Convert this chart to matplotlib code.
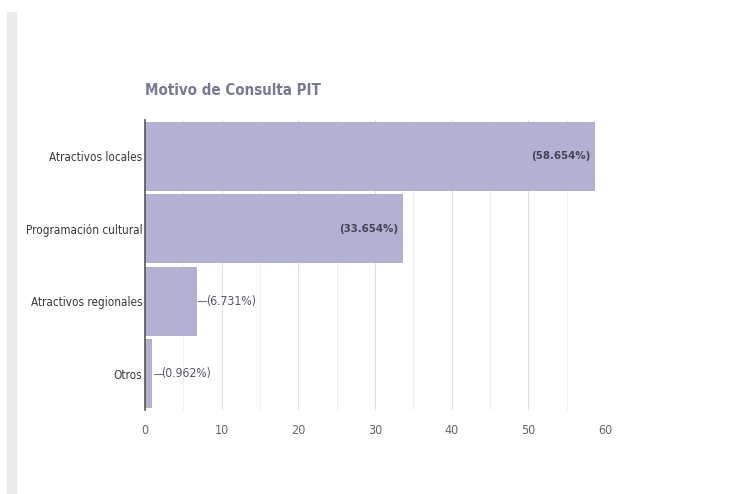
import matplotlib.pyplot as plt
from matplotlib.patches import Rectangle

categories = ["Atractivos locales", "Programación cultural", "Atractivos regionales", "Otros"]
values = [58.654, 33.654, 6.731, 0.962]
labels = ["(58.654%)", "(33.654%)", "(6.731%)", "(0.962%)"]
xticks = [0, 10, 20, 30, 40, 50, 60]

plt.rcParams["font.family"] = ["DejaVu Sans"]
plt.rcParams["font.stretch"] = "condensed"

fig = plt.figure(figsize=(7.46, 4.94), dpi=100)
fig.patches.append(Rectangle((7 / 746, 0), 9 / 746, 1 - 12 / 494,
                             transform=fig.transFigure, color="#ebebeb", zorder=0))

ax = fig.add_axes([145 / 746, 1 - 410 / 494, 460 / 746, 290 / 494])
y = list(range(len(categories)))
ax.barh(y, values, height=0.95, color="#b3b1d3", zorder=2)
ax.set_ylim(len(categories) - 0.5, -0.5)
ax.set_xlim(0, 60)

# grid every 5
for g in range(5, 61, 5):
    ax.axvline(g, color="#e0e0e0" if g % 10 == 0 else "#f0f0f0", lw=0.8, zorder=1)

for i, (v, lab) in enumerate(zip(values, labels)):
    if v > 20:
        ax.text(v - 0.6, i, lab, ha="right", va="center", fontsize=8.2,
                color="#444455", fontweight="bold", zorder=3)
    else:
        ax.plot([v + 0.2, v + 1.2], [i, i], color="#777777", lw=0.8, zorder=3)
        ax.text(v + 1.2, i, lab, ha="left", va="center", fontsize=8.7,
                color="#555566", zorder=3)

ax.set_yticks(y)
ax.set_yticklabels(categories, fontsize=8.4, color="#3a3a3a")
ax.set_xticks(xticks)
ax.set_xticklabels([str(t) for t in xticks], fontsize=9, color="#666666")
ax.tick_params(length=0, pad=2)
ax.tick_params(axis="x", pad=10)
for s in ["top", "right", "bottom"]:
    ax.spines[s].set_visible(False)
ax.spines["left"].set_color("#555555")
ax.spines["left"].set_linewidth(1.2)
ax.spines["left"].set_zorder(4)

fig.text(145 / 746, 1 - 90 / 494, "Motivo de Consulta PIT", fontsize=10.8,
         color="#777799", fontweight="bold", va="center", ha="left")

fig.savefig("out.png", dpi=100, facecolor="white")
